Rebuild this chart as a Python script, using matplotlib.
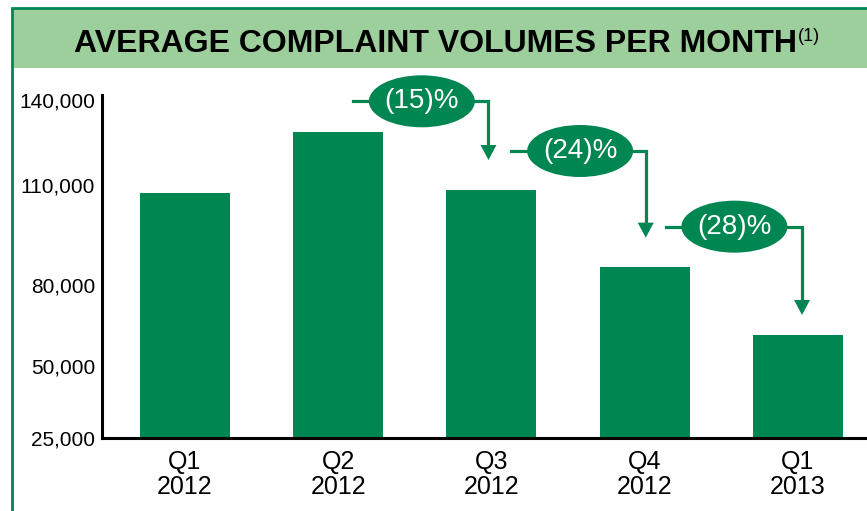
import numpy as np
import matplotlib
matplotlib.use('Agg')
import matplotlib.pyplot as plt
from matplotlib.patches import Ellipse, Rectangle, Polygon
from matplotlib.lines import Line2D
from matplotlib.transforms import IdentityTransform

plt.rcParams['font.family'] = ['Liberation Sans', 'DejaVu Sans']

# data
quarters = ['Q1\n2012', 'Q2\n2012', 'Q3\n2012', 'Q4\n2012', 'Q1\n2013']
volumes = [107600, 128600, 108500, 85500, 61500]
changes = ['(15)%', '(24)%', '(28)%']
tick_vals = [25000, 50000, 80000, 110000, 140000]

# the source axis is not evenly spaced, so map ticks piecewise
scale_vals = tick_vals + [170000]
scale_pos = [0, 72, 153, 253, 338, 423]

def fwd(v):
    return np.interp(v, scale_vals, scale_pos)

def inv(p):
    return np.interp(p, scale_pos, scale_vals)

green = '#008651'
light = '#9CCF9C'
W, H = 867, 511

fig = plt.figure(figsize=(W / 100, H / 100), dpi=100)
idt = IdentityTransform()

# title band and frame
fig.add_artist(Rectangle((12 / W, 1 - 68 / H), 1, 60 / H, transform=fig.transFigure,
                         facecolor=light, edgecolor='none', zorder=0))
fig.add_artist(Rectangle((12 / W, -0.05), 1, 1.05 - 8 / H, transform=fig.transFigure,
                         fill=False, edgecolor=green, lw=2, zorder=1))
title = fig.text(435 / W, 1 - 52 / H, 'AVERAGE COMPLAINT VOLUMES PER MONTH', ha='center',
                 va='baseline', fontsize=23, fontweight='bold')
bb = title.get_window_extent(fig.canvas.get_renderer())
fig.text(bb.x1 + 1, H - 41, '(1)', transform=idt, ha='left', va='baseline', fontsize=13)

ax = fig.add_axes([102 / W, 1 - 438 / H, 1 - 102 / W, (438 - 95) / H])
ax.set_yscale('function', functions=(fwd, inv))
x = np.arange(len(quarters))
ax.bar(x, volumes, width=0.587, color=green, zorder=2)
ax.set_xlim(-0.541, 4.45)
ax.set_ylim(25000, 141765)
ax.set_yticks(tick_vals)
ax.set_yticklabels(['{:,}'.format(v) for v in tick_vals])
ax.yaxis.set_minor_locator(matplotlib.ticker.NullLocator())
ax.set_xticks(x)
ax.set_xticklabels(quarters, linespacing=1.05)
ax.tick_params(axis='y', length=0, pad=5, labelsize=15)
ax.tick_params(axis='x', length=0, pad=9, labelsize=18)
for s in ['top', 'right']:
    ax.spines[s].set_visible(False)
for s in ['left', 'bottom']:
    ax.spines[s].set_linewidth(2.2)
ax.patch.set_alpha(0)

# callouts between consecutive quarters (offsets in pixels)
rise = [31, 39, 40]
start_dx = [15, 20, 21]
ell_dx = [7, 12, 13]
elbow_dx = [-3, 1, 4]
tip_gap = [30, 29, 20]
for i, lab in enumerate(changes):
    k = i + 1
    x0, y0 = ax.transData.transform((k, volumes[k]))
    x1, y1 = ax.transData.transform((k + 1, volumes[k + 1]))
    ly = y0 + rise[i]
    ex = x1 + elbow_dx[i]
    tip = y1 + tip_gap[i]
    fig.add_artist(Line2D([x0 + start_dx[i], ex, ex], [ly, ly, tip + 12], transform=idt,
                          color=green, lw=2.3, solid_joinstyle='miter', zorder=3))
    fig.add_artist(Polygon([[ex - 8, tip + 15], [ex + 8, tip + 15], [ex, tip]], closed=True,
                           transform=idt, facecolor=green, edgecolor='none', zorder=3))
    cx = (x0 + x1) / 2 + ell_dx[i]
    fig.add_artist(Ellipse((cx, ly), 106, 52, transform=idt, facecolor=green,
                           edgecolor='none', zorder=4))
    fig.text(cx, ly, lab, transform=idt, ha='center', va='center', color='white',
             fontsize=20, zorder=5)

fig.savefig('out.png', dpi=100)
